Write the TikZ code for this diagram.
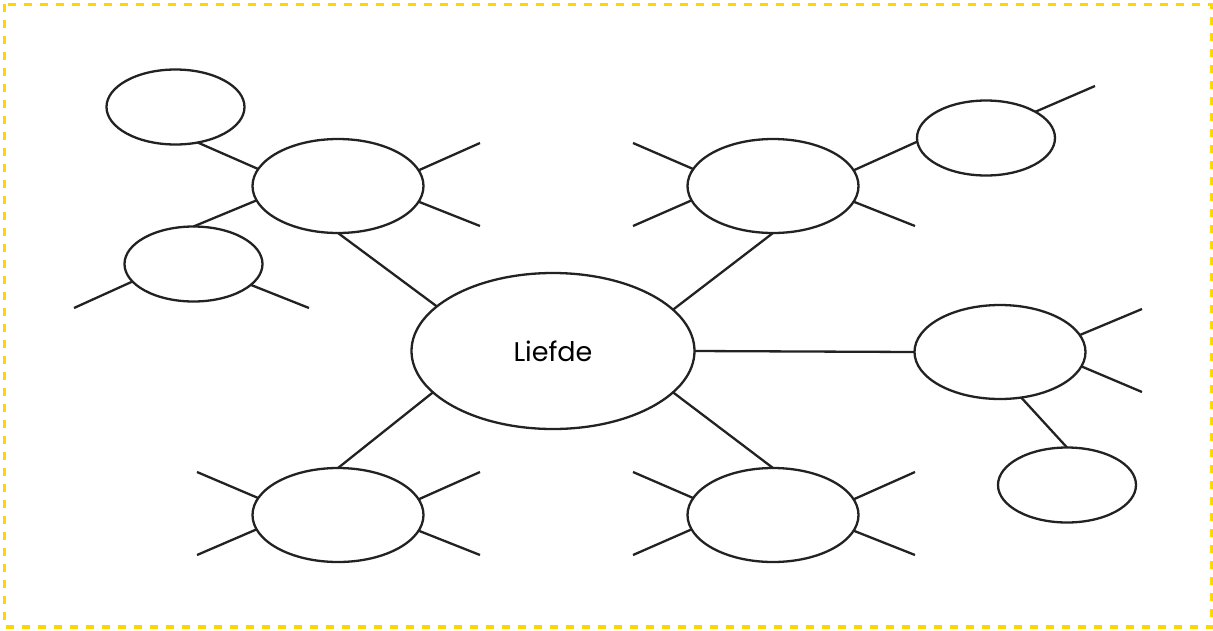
\documentclass[tikz,border=0pt]{standalone}
\usepackage{fontspec}
\setmainfont{Poppins}
\definecolor{ink}{HTML}{222222}
\definecolor{frame}{HTML}{FFD700}
\tikzset{
  bubble/.style={ellipse, draw=ink, line width=2.3pt, fill=white, inner sep=0pt, outer sep=0pt},
  hub/.style={bubble, minimum width=283pt, minimum height=156pt},
  big/.style={bubble, minimum width=171pt, minimum height=94pt},
  small/.style={bubble, minimum width=138pt, minimum height=75pt},
  link/.style={draw=ink, line width=2.3pt},
  border/.style={draw=frame, line width=3.5pt, dash pattern=on 8pt off 8pt}
}
\begin{document}
\begin{tikzpicture}[x=1pt, y=-1pt]
\usetikzlibrary{shapes.geometric}
\useasboundingbox (0,0) rectangle (1213,630);
\draw[border] (4.3,4.3) rectangle (1211.3,627);

% bubbles
\node[hub] (centre) at (553,351) {\fontsize{27}{32}\selectfont Liefde};
\node[big] (tl) at (338,186) {};
\node[big] (tr) at (773,186) {};
\node[big] (bl) at (338,515) {};
\node[big] (br) at (773,515) {};
\node[big] (rt) at (1000,352) {};
\node[small] (tlA) at (175.5,107) {};
\node[small] (tlB) at (193.5,264) {};
\node[small] (trA) at (986,138) {};
\node[small] (rtA) at (1067,485) {};

% loose spoke ends
\coordinate (tlB1) at (74,308);
\coordinate (tlB2) at (309,308);
\coordinate (tl1) at (480,143);
\coordinate (tl2) at (480,226);
\coordinate (tr1) at (633,143);
\coordinate (tr2) at (633,226);
\coordinate (tr3) at (915,226);
\coordinate (trA1) at (1095,86);
\coordinate (rt1) at (1142,309);
\coordinate (rt2) at (1142,392);
\coordinate (bl1) at (197,472);
\coordinate (bl2) at (197,555);
\coordinate (bl3) at (480,472);
\coordinate (bl4) at (480,555);
\coordinate (br1) at (633,472);
\coordinate (br2) at (633,555);
\coordinate (br3) at (915,472);
\coordinate (br4) at (915,555);

% hub links
\draw[link] (centre.159.7) -- (tl.south);
\draw[link] (centre.19.6) -- (tr.south);
\draw[link] (centre.east) -- (rt.west);
\draw[link] (centre.199.9) -- (bl.north);
\draw[link] (centre.341.3) -- (br.north);

% top left group
\draw[link] (tl.168.3) -- (tlA.302);
\draw[link] (tl.190.4) -- (tlB.north);
\draw[link] (tl.11.7) -- (tl1);
\draw[link] (tl.349.6) -- (tl2);
\draw[link] (tlB.196.9) -- (tlB1);
\draw[link] (tlB.340.6) -- (tlB2);

% top right group
\draw[link] (tr.168.3) -- (tr1);
\draw[link] (tr.190.4) -- (tr2);
\draw[link] (tr.11.7) -- (trA.183.4);
\draw[link] (tr.349.6) -- (tr3);
\draw[link] (trA.28.4) -- (trA1);

% right group
\draw[link] (rt.12.7) -- (rt1);
\draw[link] (rt.350.4) -- (rt2);
\draw[link] (rt.295.1) -- (rtA.north);

% bottom left group
\draw[link] (bl.168.3) -- (bl1);
\draw[link] (bl.190.4) -- (bl2);
\draw[link] (bl.11.7) -- (bl3);
\draw[link] (bl.349.6) -- (bl4);

% bottom right group
\draw[link] (br.168.3) -- (br1);
\draw[link] (br.190.4) -- (br2);
\draw[link] (br.11.7) -- (br3);
\draw[link] (br.349.6) -- (br4);
\end{tikzpicture}
\end{document}
